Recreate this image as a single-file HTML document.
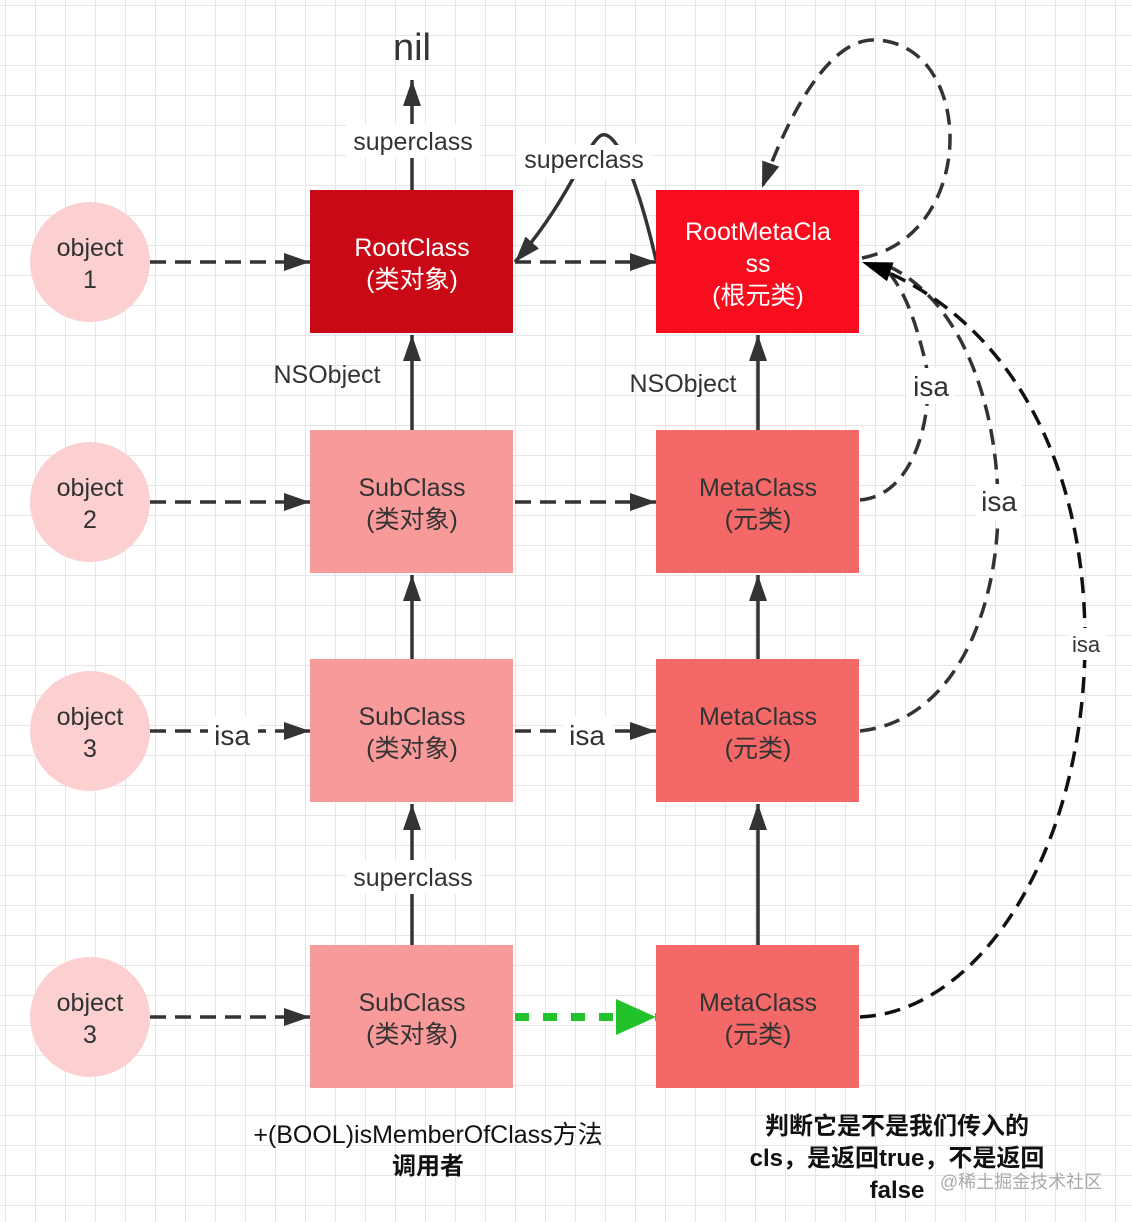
<!DOCTYPE html>
<html><head><meta charset="utf-8"><style>
body{margin:0;background:#fff}
svg{display:block;font-family:"Liberation Sans","Noto Sans CJK SC",sans-serif}
</style></head><body>
<svg width="1132" height="1222" viewBox="0 0 1132 1222" xmlns="http://www.w3.org/2000/svg">
<defs>
<pattern id="g" width="30" height="30" patternUnits="userSpaceOnUse" x="5" y="5">
<path d="M0 0H30M0 0V30" stroke="#e6e6e6" stroke-width="2" fill="none"/>
</pattern>
<marker id="A" markerWidth="26" markerHeight="18" refX="26" refY="9" orient="auto" markerUnits="userSpaceOnUse">
<path d="M0 0L26 9L0 18z" fill="#333"/></marker>
<marker id="B" markerWidth="30" markerHeight="20" refX="30" refY="10" orient="auto" markerUnits="userSpaceOnUse">
<path d="M0 0L30 10L0 20z" fill="#000"/></marker>
<marker id="G" markerWidth="40" markerHeight="36" refX="40" refY="18" orient="auto" markerUnits="userSpaceOnUse">
<path d="M0 0L40 18L0 36z" fill="#22c22a"/></marker>
</defs>
<rect width="1132" height="1222" fill="url(#g)"/>

<g fill="none" stroke="#333" stroke-width="3.5">
<path d="M412 190V80" marker-end="url(#A)"/>
<path d="M412 430V335" marker-end="url(#A)"/>
<path d="M412 659V575" marker-end="url(#A)"/>
<path d="M412 945V804" marker-end="url(#A)"/>
<path d="M758 430V335" marker-end="url(#A)"/>
<path d="M758 659V575" marker-end="url(#A)"/>
<path d="M758 945V804" marker-end="url(#A)"/>
<g stroke-dasharray="16 9">
<path d="M150 262H310" marker-end="url(#A)"/>
<path d="M150 502H310" marker-end="url(#A)"/>
<path d="M150 731H310" marker-end="url(#A)"/>
<path d="M150 1017H310" marker-end="url(#A)"/>
<path d="M515 262H656" marker-end="url(#A)"/>
<path d="M515 502H656" marker-end="url(#A)"/>
<path d="M515 731H656" marker-end="url(#A)"/>
<path d="M862 258C980 235 975 40 873 40C830 40 790 110 762 188" marker-end="url(#A)"/>
<path d="M860 500C920 495 935 400 925 360C915 320 905 290 885 268"/>
<path d="M860 731C960 720 1000 600 998 500C996 400 960 300 888 266"/>
</g>
<path d="M860 1017C980 1012 1085 850 1085 640C1085 450 1000 310 862 262" stroke="#111" stroke-dasharray="16 9" marker-end="url(#B)"/>
<path d="M656 260C640 190 618 130 602 135C588 140 570 200 515 262" marker-end="url(#A)"/>
<path d="M515 1017H656" stroke="#22c22a" stroke-width="8" stroke-dasharray="14 14" marker-end="url(#G)"/>
</g>

<g fill="#fff">
<rect x="346" y="124" width="134" height="34"/>
<rect x="517" y="145" width="134" height="34"/>
<rect x="908" y="368" width="46" height="36"/>
<rect x="976" y="484" width="46" height="36"/>
<rect x="1068" y="628" width="38" height="32"/>
<rect x="208" y="716" width="50" height="34"/>
<rect x="563" y="716" width="50" height="34"/>
<rect x="346" y="860" width="134" height="34"/>
</g>

<rect x="310" y="190" width="203" height="143" fill="#c90a16"/>
<rect x="656" y="190" width="203" height="143" fill="#f80d1e"/>
<rect x="310" y="430" width="203" height="143" fill="#f99a9a"/>
<rect x="310" y="659" width="203" height="143" fill="#f99a9a"/>
<rect x="310" y="945" width="203" height="143" fill="#f99a9a"/>
<rect x="656" y="430" width="203" height="143" fill="#f46868"/>
<rect x="656" y="659" width="203" height="143" fill="#f46868"/>
<rect x="656" y="945" width="203" height="143" fill="#f46868"/>
<g fill="#fcd0d0">
<circle cx="90" cy="262" r="60"/><circle cx="90" cy="502" r="60"/>
<circle cx="90" cy="731" r="60"/><circle cx="90" cy="1017" r="60"/>
</g>

<g font-size="25" text-anchor="middle" fill="#333">
<text x="90" y="256">object</text><text x="90" y="288">1</text>
<text x="90" y="496">object</text><text x="90" y="528">2</text>
<text x="90" y="725">object</text><text x="90" y="757">3</text>
<text x="90" y="1011">object</text><text x="90" y="1043">3</text>
<g fill="#fff">
<text x="412" y="256">RootClass</text><text x="412" y="288">(类对象)</text>
<text x="758" y="240">RootMetaCla</text><text x="758" y="272">ss</text><text x="758" y="304">(根元类)</text>
</g>
<text x="412" y="496">SubClass</text><text x="412" y="528">(类对象)</text>
<text x="412" y="725">SubClass</text><text x="412" y="757">(类对象)</text>
<text x="412" y="1011">SubClass</text><text x="412" y="1043">(类对象)</text>
<text x="758" y="496">MetaClass</text><text x="758" y="528">(元类)</text>
<text x="758" y="725">MetaClass</text><text x="758" y="757">(元类)</text>
<text x="758" y="1011">MetaClass</text><text x="758" y="1043">(元类)</text>
<text x="412" y="60" font-size="38">nil</text>
<text x="413" y="150">superclass</text>
<text x="584" y="168">superclass</text>
<text x="413" y="886">superclass</text>
<text x="327" y="383">NSObject</text>
<text x="683" y="392">NSObject</text>
<text x="931" y="396" font-size="28">isa</text>
<text x="999" y="511" font-size="28">isa</text>
<text x="1086" y="652" font-size="22">isa</text>
<text x="232" y="745" font-size="28">isa</text>
<text x="587" y="745" font-size="28">isa</text>
<g fill="#111" font-size="24" font-weight="bold">
<text x="428" y="1143" font-weight="normal" font-size="25">+(BOOL)isMemberOfClass方法</text>
<text x="428" y="1174">调用者</text>
<text x="897" y="1134">判断它是不是我们传入的</text>
<text x="897" y="1166">cls，是返回true，不是返回</text>
<text x="897" y="1198">false</text>
</g>
<text x="1021" y="1188" font-size="18" fill="#aaa">@稀土掘金技术社区</text>
</g>
</svg>
</body></html>
